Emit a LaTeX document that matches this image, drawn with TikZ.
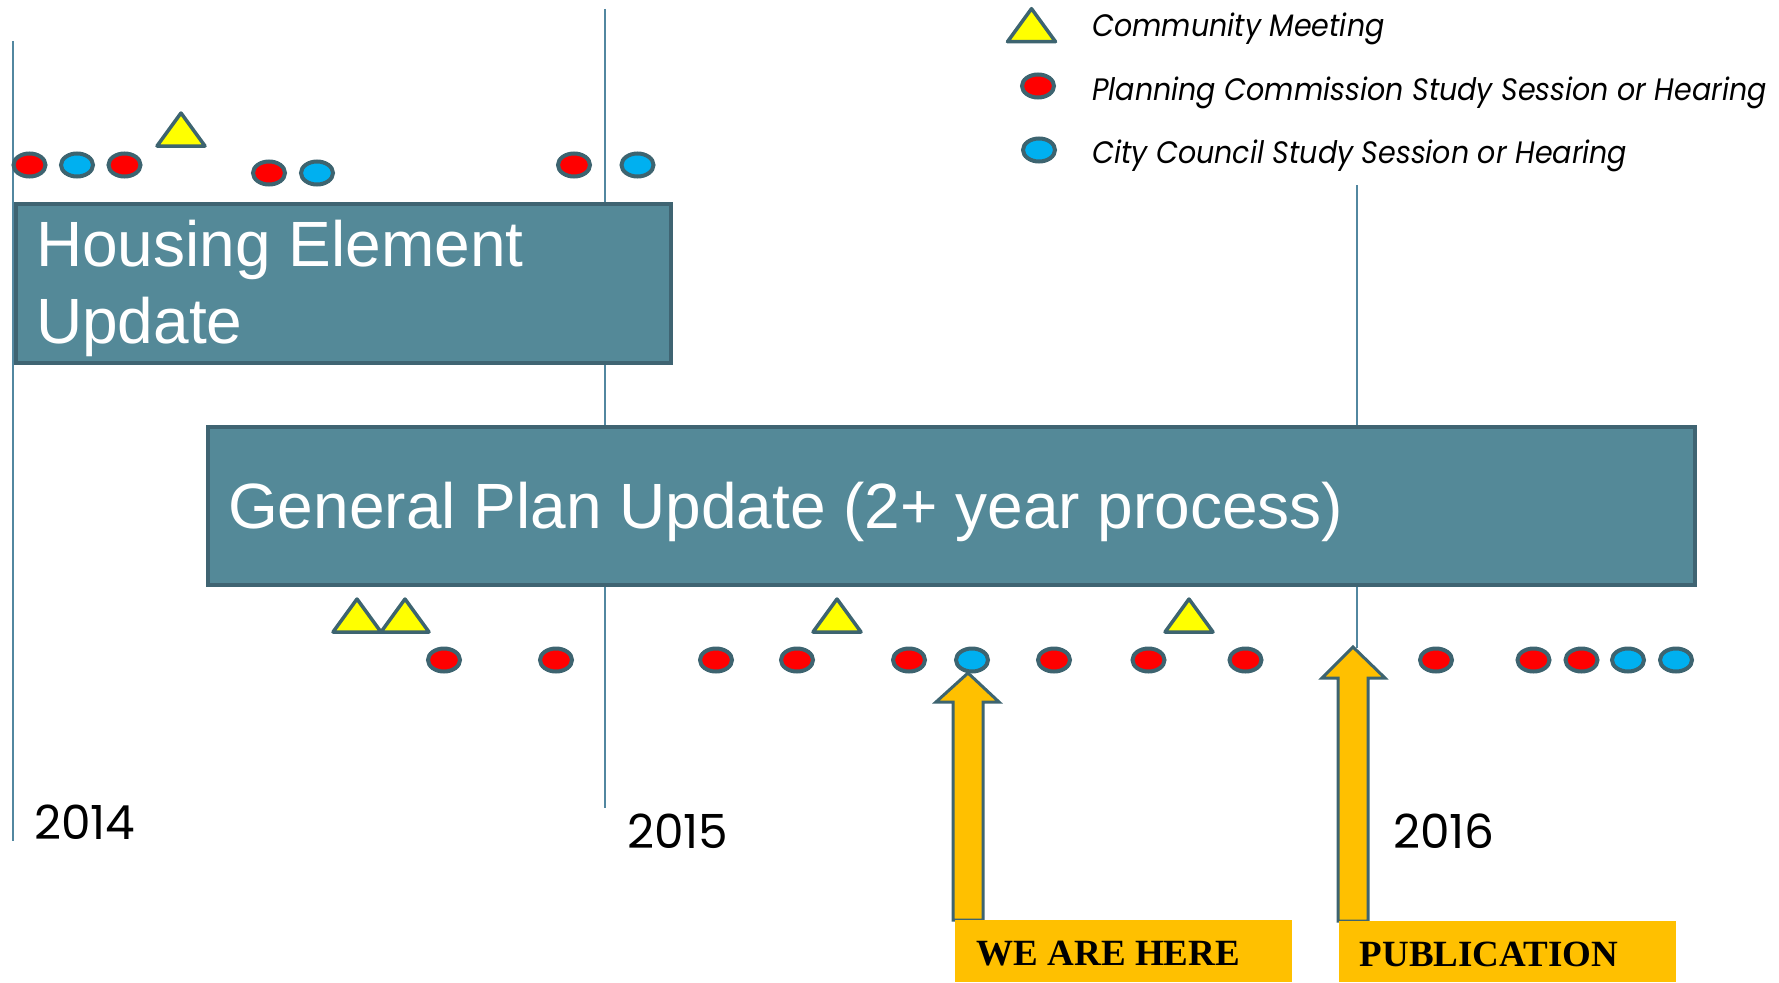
\documentclass[tikz,border=0pt]{standalone}
\usepackage{fontspec}
\setmainfont{Liberation Sans}
\newfontfamily\yearfont{Poppins}
\newfontfamily\legfont{Poppins}[FakeStretch=0.92]
\newfontfamily\lblfont{Liberation Serif}
\usetikzlibrary{shapes.geometric}
\definecolor{boxfill}{HTML}{548998}
\definecolor{boxline}{HTML}{3F6472}
\definecolor{vline}{HTML}{5287A0}
\definecolor{dotline}{HTML}{3D6470}
\definecolor{pcred}{HTML}{FF0000}
\definecolor{ccblue}{HTML}{00B0F0}
\definecolor{cmyellow}{HTML}{FFFF00}
\definecolor{gold}{HTML}{FFC000}
\newcommand\cmtri[2]{\draw[trimark] ({#1-24},{#2}) -- (#1,{#2-33}) -- ({#1+24},{#2}) -- cycle;}
\begin{document}
\begin{tikzpicture}[x=1pt,y=-1pt,
  pcdot/.style={ellipse, draw=dotline, line width=4pt, fill=pcred, minimum width=32pt, minimum height=23pt, inner sep=0pt},
  ccdot/.style={pcdot, fill=ccblue},
  trimark/.style={draw=dotline, line width=3.5pt, fill=cmyellow, line join=round},
  vrule/.style={draw=vline, line width=2pt},
  phasebox/.style={draw=boxline, line width=4pt, fill=boxfill, rectangle, inner sep=0pt, anchor=north west},
  phasetext/.style={text=white, inner sep=0pt, font=\fontsize{64}{76.3}\selectfont, align=left, anchor=base west},
  goldarrow/.style={draw=dotline, line width=3pt, fill=gold, line join=miter},
  goldbox/.style={fill=gold, rectangle, inner sep=0pt, anchor=north west},
  goldtext/.style={inner sep=0pt, anchor=base west, font=\lblfont\bfseries\fontsize{37}{40}\selectfont},
  yeartext/.style={inner sep=0pt, anchor=base west, font=\yearfont\fontsize{47}{52}\selectfont},
  legtext/.style={inner sep=0pt, anchor=base west, font=\legfont\itshape\fontsize{31}{36}\selectfont}]
\useasboundingbox (0,0) rectangle (1779,982);
% vertical year lines
\coordinate (l1top) at (13,41);   \coordinate (l1bot) at (13,841);
\coordinate (l2top) at (605,9);   \coordinate (l2bot) at (605,808);
\coordinate (l3top) at (1357,185); \coordinate (l3bot) at (1357,648);
\draw[vrule] (l1top) -- (l1bot);
\draw[vrule] (l2top) -- (l2bot);
\draw[vrule] (l3top) -- (l3bot);
% phase boxes
\node[phasebox, minimum width=655pt, minimum height=159pt] (he) at (13.5,202) {};
\node[phasetext] (hetext) at (36,343) {Housing Element\\Update};
\node[phasebox, minimum width=1487pt, minimum height=158pt] (gp) at (205.5,425) {};
\node[phasetext] (gptext) at (228,528.3) {General Plan Update (2+ year process)};
% top events
\node[pcdot] (t1) at (29.5,165) {};
\node[ccdot] (t2) at (77,165) {};
\node[pcdot] (t3) at (124.5,165) {};
\node[pcdot] (t4) at (269,173) {};
\node[ccdot] (t5) at (317,173) {};
\node[pcdot] (t6) at (574,165) {};
\node[ccdot] (t7) at (637.5,165) {};
\cmtri{181}{146}
% bottom events
\cmtri{357}{632}
\cmtri{405}{632}
\cmtri{837}{632}
\cmtri{1189}{632}
\node[pcdot] (b1) at (444,660) {};
\node[pcdot] (b2) at (556,660) {};
\node[pcdot] (b3) at (716,660) {};
\node[pcdot] (b4) at (797,660) {};
\node[pcdot] (b5) at (909,660) {};
\node[ccdot] (b6) at (972,660) {};
\node[pcdot] (b7) at (1054,660) {};
\node[pcdot] (b8) at (1148.5,660) {};
\node[pcdot] (b9) at (1245.5,660) {};
\node[pcdot] (b10) at (1436,660) {};
\node[pcdot] (b11) at (1533.5,660) {};
\node[pcdot] (b12) at (1581.5,660) {};
\node[ccdot] (b13) at (1628,660) {};
\node[ccdot] (b14) at (1676,660) {};
% arrows
\draw[goldarrow] (953,920) -- (953,702) -- (936,702) -- (968,673) -- (999,702) -- (983,702) -- (983,920) -- cycle;
\draw[goldarrow] (1338,921) -- (1338,678) -- (1322,678) -- (1353,647) -- (1385,678) -- (1368,678) -- (1368,921) -- cycle;
% labels
\node[goldbox, minimum width=337pt, minimum height=62pt] (herebox) at (955,920) {};
\node[goldtext] (heretext) at (976.5,965.7) {WE ARE HERE};
\node[goldbox, minimum width=337pt, minimum height=61pt] (pubbox) at (1339,921) {};
\node[goldtext] (pubtext) at (1359.5,966) {PUBLICATION};
% years
\node[yeartext] (y14) at (34,839.5) {2014};
\node[yeartext] (y15) at (627,848.7) {2015};
\node[yeartext] (y16) at (1393,848) {2016};
% legend
\cmtri{1031.5}{41.7}
\node[pcdot] (legpc) at (1038,86) {};
\node[ccdot] (legcc) at (1039,150) {};
\node[legtext] (legcmt) at (1092,36.7) {Community Meeting};
\node[legtext] (legpct) at (1092,100.7) {Planning Commission Study Session or Hearing};
\node[legtext] (legcct) at (1092,163.3) {City Council Study Session or Hearing};
\end{tikzpicture}
\end{document}
